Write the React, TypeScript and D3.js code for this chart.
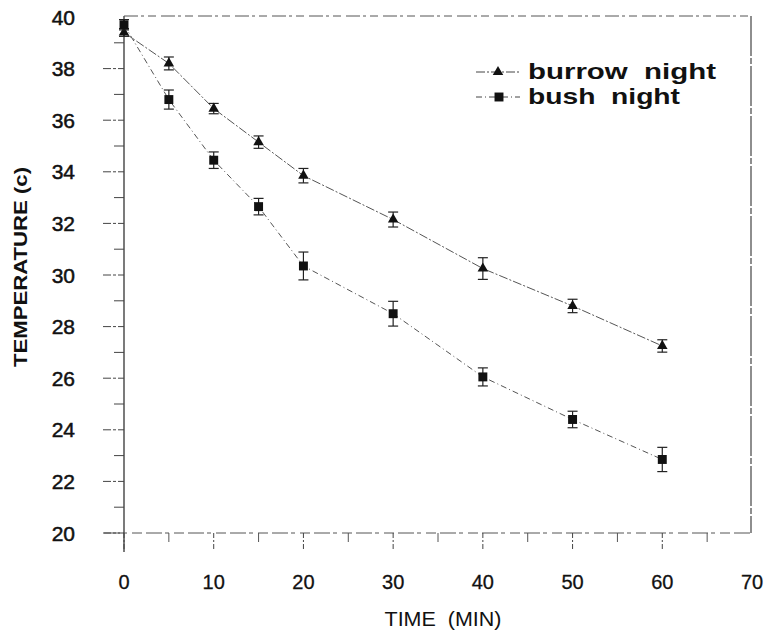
import React from 'react';
import * as d3 from 'd3';

// time in minutes
const times = [0, 5, 10, 15, 20, 30, 40, 50, 60];
const burrowNight = [39.4, 38.2, 36.45, 35.15, 33.85, 32.15, 30.25, 28.8, 27.25];
const burrowErr = [0.15, 0.25, 0.2, 0.24, 0.28, 0.29, 0.42, 0.26, 0.24];
const bushNight = [39.7, 36.8, 34.45, 32.65, 30.35, 28.5, 26.05, 24.4, 22.85];
const bushErr = [0.2, 0.37, 0.32, 0.32, 0.54, 0.48, 0.35, 0.32, 0.47];

const xTicks = [0, 10, 20, 30, 40, 50, 60, 70];
const xMinor = [5, 15, 25, 35, 45, 55, 65];
const yTicks = [20, 22, 24, 26, 28, 30, 32, 34, 36, 38, 40];
const yMinor = [21, 23, 25, 27, 29, 31, 33, 35, 37, 39];

const W = 767;
const H = 635;
const font = '"Liberation Sans", Arial, sans-serif';
const pre = { whiteSpace: 'pre' as const };

const App = () => {
  const x = d3.scaleLinear().domain([0, 70]).range([124, 752]);
  const y = d3.scaleLinear().domain([20, 40]).range([533, 17]);

  const line = d3
    .line<number>()
    .x((d, i) => x(times[i]))
    .y((d) => y(d));

  const tri = d3.symbol().type(d3.symbolTriangle).size(48)();
  const sq = d3.symbol().type(d3.symbolSquare).size(80)();

  const series = [
    { values: burrowNight, err: burrowErr, marker: tri, dash: '9 2 2 2' },
    { values: bushNight, err: bushErr, marker: sq, dash: '6 3 1 3' },
  ];

  return (
    <svg width={W} height={H} style={{ position: 'absolute', left: 0, top: 0, background: '#fff' }}>
      {/* frame */}
      <line x1={x(0)} x2={x(0)} y1={16} y2={552} stroke="#222" strokeWidth={1.2} />
      <line x1={x(0)} x2={751} y1={16} y2={16} stroke="#555" strokeWidth={1} strokeDasharray="14 3 3 4 8 5" />
      <line x1={751} x2={751} y1={16} y2={533} stroke="#444" strokeWidth={1.2} strokeDasharray="40 2 6 2" />
      <line x1={x(0) - 20} x2={751} y1={533} y2={533} stroke="#555" strokeWidth={1} strokeDasharray="16 3 4 5 10 4" />

      {/* y ticks */}
      {yTicks.filter((t) => t < 40).map((t) => (
        <line key={'yt' + t} x1={103} x2={x(0)} y1={y(t)} y2={y(t)} stroke="#444" strokeWidth={1} strokeDasharray="8 2 3 2" />
      ))}
      {yMinor.map((t) => (
        <line key={'ym' + t} x1={114} x2={x(0)} y1={y(t)} y2={y(t)} stroke="#444" strokeWidth={1} />
      ))}
      {yTicks.map((t) => (
        <text key={'yl' + t} x={75} y={y(t) + 2} textAnchor="end" dominantBaseline="middle"
          fontFamily={font} fontSize={21} fill="#111" stroke="#111" strokeWidth={0.5}>{t}</text>
      ))}

      {/* x ticks */}
      {xTicks.filter((t) => t < 70).map((t) => (
        <line key={'xt' + t} x1={x(t)} x2={x(t)} y1={533} y2={550} stroke="#444" strokeWidth={1} strokeDasharray="5 2 2 2" />
      ))}
      {xMinor.map((t) => (
        <line key={'xm' + t} x1={x(t)} x2={x(t)} y1={533} y2={542} stroke="#555" strokeWidth={1} />
      ))}
      {xTicks.map((t) => (
        <text key={'xl' + t} x={x(t)} y={589} textAnchor="middle"
          fontFamily={font} fontSize={20} fill="#111" stroke="#111" strokeWidth={0.3}>{t}</text>
      ))}

      {/* axis titles */}
      <text x={443} y={626} textAnchor="middle" fontFamily={font} fontSize={21} fill="#111"
        textLength={117} lengthAdjust="spacingAndGlyphs" style={pre}>TIME  (MIN)</text>
      <text transform="translate(27,267) rotate(-90)" textAnchor="middle" fontFamily={font}
        fontSize={18} fontWeight="bold" fill="#111" textLength={200} lengthAdjust="spacingAndGlyphs">
        TEMPERATURE (c)
      </text>

      {/* series */}
      {series.map((s, si) => (
        <g key={'s' + si}>
          <path d={line(s.values) || ''} fill="none" stroke="#555" strokeWidth={1} strokeDasharray={s.dash} />
          {s.values.map((v, i) => (
            <g key={i}>
              <line x1={x(times[i])} x2={x(times[i])} y1={y(v + s.err[i])} y2={y(v - s.err[i])} stroke="#222" strokeWidth={1.2} />
              <line x1={x(times[i]) - 5} x2={x(times[i]) + 5} y1={y(v + s.err[i])} y2={y(v + s.err[i])} stroke="#222" strokeWidth={1.2} />
              <line x1={x(times[i]) - 5} x2={x(times[i]) + 5} y1={y(v - s.err[i])} y2={y(v - s.err[i])} stroke="#222" strokeWidth={1.2} />
              <path d={s.marker || ''} transform={`translate(${x(times[i])},${y(v)})`} fill="#111" />
            </g>
          ))}
        </g>
      ))}

      {/* legend */}
      <line x1={476} x2={520} y1={72} y2={72} stroke="#444" strokeWidth={1} strokeDasharray="9 2 2 2" />
      <path d={tri || ''} transform="translate(498,72)" fill="#111" />
      <text x={528} y={79} fontFamily={font} fontSize={22} fontWeight="bold" fill="#111"
        textLength={188} lengthAdjust="spacingAndGlyphs" style={pre}>burrow  night</text>
      <line x1={476} x2={520} y1={97} y2={97} stroke="#444" strokeWidth={1} strokeDasharray="6 3 1 3" />
      <path d={sq || ''} transform="translate(499,97)" fill="#111" />
      <text x={528} y={104} fontFamily={font} fontSize={22} fontWeight="bold" fill="#111"
        textLength={152} lengthAdjust="spacingAndGlyphs" style={pre}>bush  night</text>
    </svg>
  );
};

export default App;
